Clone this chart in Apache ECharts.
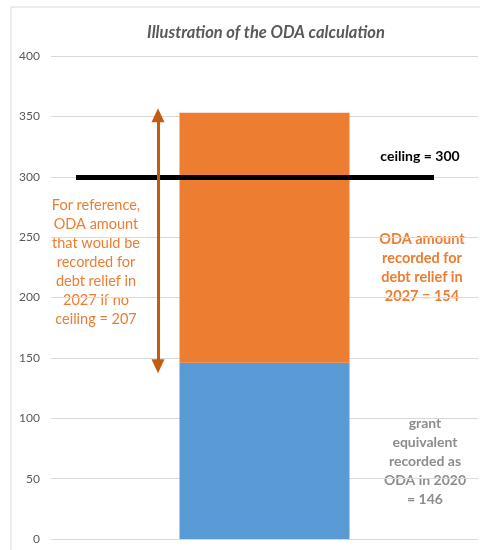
<!DOCTYPE html>
<html><head><meta charset="utf-8">
<script src="https://cdn.jsdelivr.net/npm/echarts@6/dist/echarts.min.js"></script>
<style>html,body{margin:0;padding:0;background:#fff}#c{width:480px;height:550px}</style>
</head><body><div id="c"></div>
<script>
const categories = ['2027'];
const grantEquivalent = [146];
const debtReliefNoCeiling = [207];
const ceilingValue = 300;
const arrowRange = [143, 351];
const yTicks = {min: 0, max: 400, interval: 50};

const chart = echarts.init(document.getElementById('c'));
const FONT = 'Lato';
chart.setOption({
  animation: false,
  title: {
    text: 'Illustration of the ODA calculation',
    left: 261, top: 19, textAlign: 'center',
    textStyle: {fontFamily: FONT, fontSize: 16.5, fontWeight: 'bold', fontStyle: 'italic', color: '#595959'}
  },
  grid: {left: 51, right: 2, top: 56, bottom: 11},
  xAxis: {
    type: 'category', data: categories,
    axisLine: {show: false}, axisTick: {show: false}, axisLabel: {show: false}
  },
  yAxis: {
    type: 'value', min: yTicks.min, max: yTicks.max, interval: yTicks.interval,
    axisLine: {show: false}, axisTick: {show: false},
    axisLabel: {color: '#595959', fontFamily: FONT, fontSize: 12, margin: 11},
    splitLine: {lineStyle: {color: '#d9d9d9', width: 1}}
  },
  series: [
    {
      type: 'bar', stack: 'a', data: grantEquivalent, barWidth: 170,
      itemStyle: {color: '#5B9BD5'}
    },
    {
      type: 'bar', stack: 'a', data: debtReliefNoCeiling, barWidth: 170,
      itemStyle: {color: '#ED7D31'},
      markLine: {
        silent: true, animation: false,
        label: {show: false},
        data: [
          [{x: 76, yAxis: ceilingValue, symbol: 'none', lineStyle: {color: '#000', width: 5, type: 'solid'}},
           {x: 434, yAxis: ceilingValue, symbol: 'none'}],
          [{x: 158, yAxis: arrowRange[0], symbol: 'triangle', symbolSize: [13, 14], symbolRotate: 180,
            lineStyle: {color: '#C55A11', width: 3, type: 'solid'}, itemStyle: {color: '#C55A11'}},
           {x: 158, yAxis: arrowRange[1], symbol: 'triangle', symbolSize: [13, 14]}]
        ]
      }
    }
  ],
  graphic: [
    {type: 'rect', shape: {x: 11, y: 7, width: 480, height: 560}, style: {fill: 'none', stroke: '#d9d9d9', lineWidth: 1}, silent: true, z: -1},
    {type: 'text', x: 420, y: 156, style: {text: 'ceiling = 300', font: 'bold 14px Lato', fill: '#000', align: 'center', verticalAlign: 'middle'}},
    {type: 'text', x: 96, y: 262, style: {text: 'For reference,\nODA amount\nthat would be\nrecorded for\ndebt relief in\n2027 if no\nceiling = 207', font: '14.5px Lato', lineHeight: 19, fill: '#ED7D31', align: 'center', verticalAlign: 'middle'}},
    {type: 'text', x: 422, y: 268, style: {text: 'ODA amount\nrecorded for\ndebt relief in\n2027 = 154', font: 'bold 14.5px Lato', lineHeight: 19, fill: '#ED7D31', align: 'center', verticalAlign: 'middle'}},
    {type: 'text', x: 425, y: 461, style: {text: 'grant\nequivalent\nrecorded as\nODA in 2020\n= 146', font: 'bold 14px Lato', lineHeight: 19, fill: '#8c8c8c', align: 'center', verticalAlign: 'middle'}}
  ]
});
</script></body></html>
